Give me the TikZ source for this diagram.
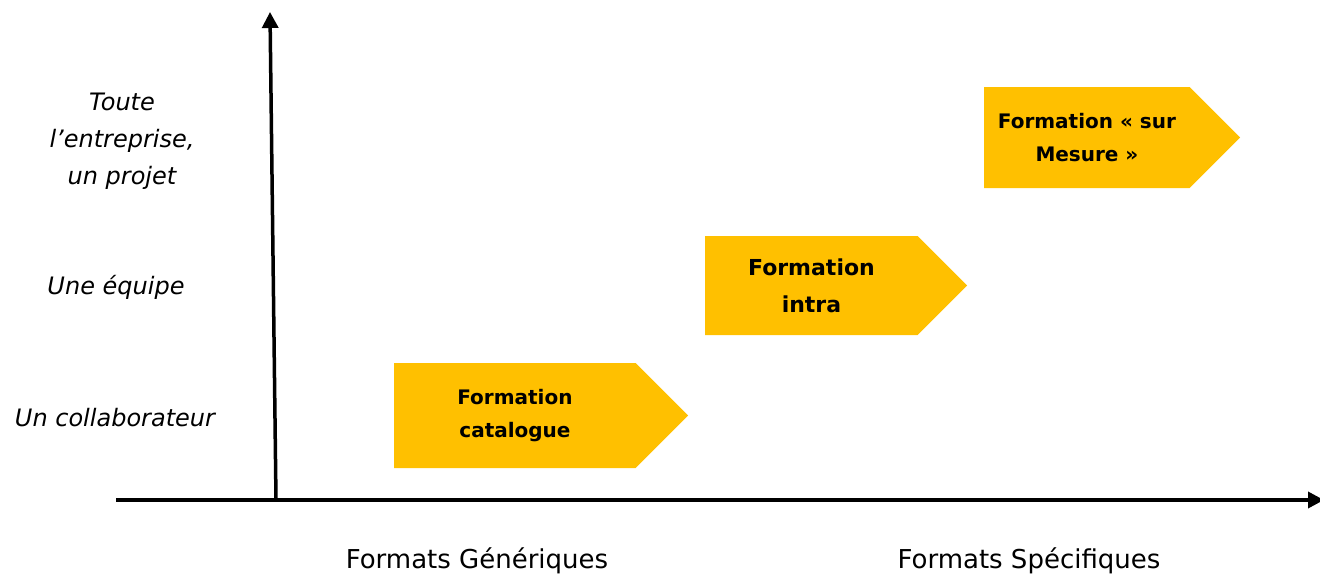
\documentclass[tikz,border=0pt]{standalone}
\usepackage{fontspec}
\setmainfont{DejaVu Sans}
\usetikzlibrary{arrows.meta,shapes.symbols}
\definecolor{gold}{HTML}{FFC000}
\tikzset{
  axe/.style={line width=3.5pt,-{Triangle[length=16pt,width=16pt]}},
  niveau/.style={font=\fontsize{24}{37}\selectfont\itshape,align=center},
  format/.style={font=\fontsize{26}{30}\selectfont},
  fleche/.style={signal,signal to=east,signal pointer angle=90,fill=gold,anchor=west,
    inner sep=0pt,align=center,font=\fontsize{20}{33}\selectfont\bfseries}
}
\begin{document}
\begin{tikzpicture}[x=1pt,y=-1pt]
\useasboundingbox (0,0) rectangle (1320,578);
\coordinate (o) at (276,500);
\coordinate (haut) at (270,12);
\coordinate (gauche) at (116,500);
\coordinate (droite) at (1324,500);
\draw[axe] (gauche) -- (droite);
\draw[axe] (o) -- (haut);

\node[fleche,minimum width=294pt,minimum height=105pt] (catalogue) at (394,415.5) {Formation\\catalogue};
\node[fleche,minimum width=262pt,minimum height=99pt,font=\fontsize{22}{37}\selectfont\bfseries] (intra) at (705,285.5) {Formation\\intra};
\node[fleche,minimum width=256pt,minimum height=101pt] (mesure) at (984,137.5) {Formation « sur\\Mesure »};

\node[niveau] (projet) at (122,141) {Toute\\l'entreprise,\\un projet};
\node[niveau] (equipe) at (116,287) {Une équipe};
\node[niveau] (collab) at (115,418) {Un collaborateur};

\node[format] (generique) at (477,561) {Formats Génériques};
\node[format] (specifique) at (1029,561) {Formats Spécifiques};
\end{tikzpicture}
\end{document}
